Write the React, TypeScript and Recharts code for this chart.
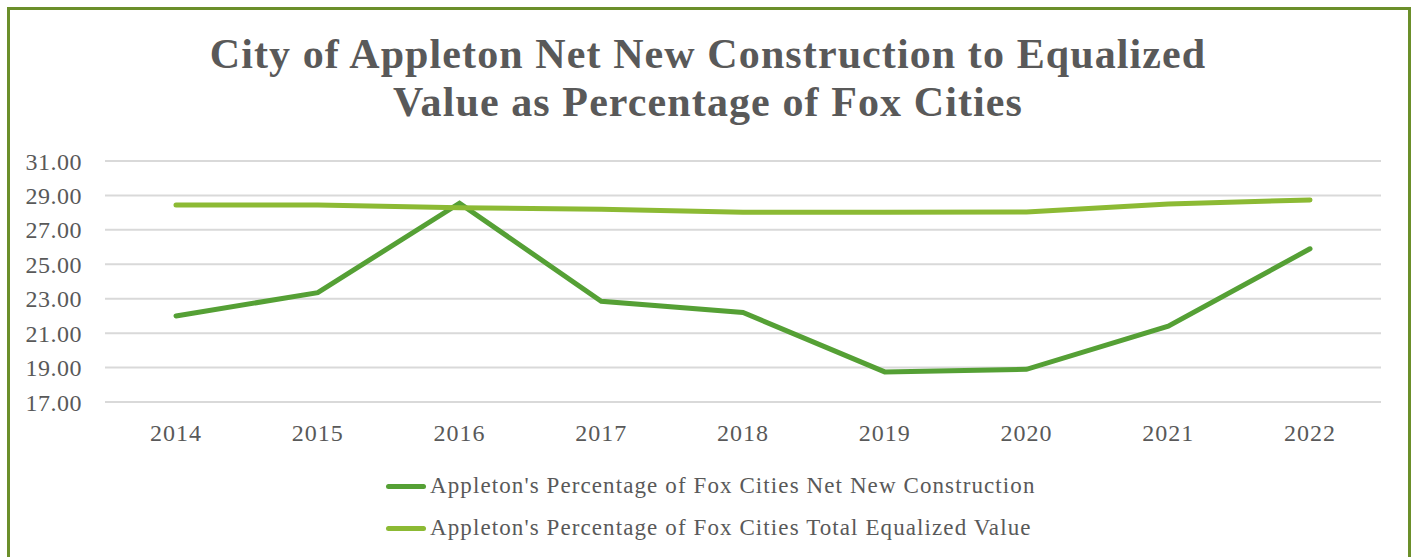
import { LineChart, Line, XAxis, YAxis, CartesianGrid, Legend } from "recharts"

const years = ["2014", "2015", "2016", "2017", "2018", "2019", "2020", "2021", "2022"]
const netNewConstruction = [22.0, 23.35, 28.55, 22.85, 22.2, 18.75, 18.9, 21.4, 25.9]
const totalEqualizedValue = [28.45, 28.45, 28.28, 28.2, 28.03, 28.03, 28.04, 28.5, 28.74]
const yTicks = [17, 19, 21, 23, 25, 27, 29, 31]

const seriesNames = {
  net: "Appleton's Percentage of Fox Cities Net New Construction",
  total: "Appleton's Percentage of Fox Cities Total Equalized Value",
}

const FONT = "'Liberation Serif', serif"
const TEXT = "#595959"

const data = years.map((year, i) => ({
  year,
  net: netNewConstruction[i],
  total: totalEqualizedValue[i],
}))

// legend is stacked, one entry per row, like the Excel original
const renderLegend = ({ payload }: any) => (
  <div style={{ fontFamily: FONT, fontSize: 23, letterSpacing: 1.1, color: TEXT }}>
    {(payload || []).map((entry: any) => (
      <div key={entry.value} style={{ display: "flex", alignItems: "center", height: 42 }}>
        <div style={{ width: 40, height: 5, borderRadius: 3, background: entry.color, marginRight: 4 }} />
        <span>{entry.value}</span>
      </div>
    ))}
  </div>
)

export default function App() {
  return (
    <div style={{ position: "fixed", left: 0, top: 0, width: 1416, height: 557, background: "#fff", overflow: "hidden" }}>
      <div
        style={{
          position: "absolute",
          left: 7,
          top: 7,
          width: 1398,
          height: 600,
          border: "3px solid #6b8f2a",
        }}
      />
      <div
        style={{
          position: "absolute",
          left: 0,
          top: 30,
          width: 1416,
          textAlign: "center",
          fontFamily: FONT,
          fontWeight: "bold",
          fontSize: 42,
          letterSpacing: 1.1,
          lineHeight: "48px",
          color: TEXT,
        }}
      >
        City of Appleton Net New Construction to Equalized
        <br />
        Value as Percentage of Fox Cities
      </div>
      <div style={{ position: "absolute", left: 0, top: 0 }}>
        <LineChart width={1416} height={557} data={data} margin={{ top: 161, right: 35, bottom: 125, left: 0 }}>
          <CartesianGrid vertical={false} stroke="#d9d9d9" strokeWidth={2} />
          <XAxis
            dataKey="year"
            height={30}
            axisLine={false}
            tickLine={false}
            tickSize={0}
            tickMargin={22}
            padding={{ left: 71, right: 71 }}
            tick={{ fill: TEXT, fontSize: 24, fontFamily: FONT, letterSpacing: 1 }}
          />
          <YAxis
            width={105}
            domain={[17, 31]}
            ticks={yTicks}
            axisLine={false}
            tickLine={false}
            tickSize={0}
            tickMargin={23}
            tickFormatter={(v: number) => v.toFixed(2)}
            tick={{ fill: TEXT, fontSize: 24, fontFamily: FONT, letterSpacing: 0.5 }}
          />
          <Line
            dataKey="net"
            name={seriesNames.net}
            stroke="#55a035"
            strokeWidth={5}
            dot={false}
            strokeLinecap="round"
            isAnimationActive={false}
          />
          <Line
            dataKey="total"
            name={seriesNames.total}
            stroke="#8cba34"
            strokeWidth={5}
            dot={false}
            strokeLinecap="round"
            isAnimationActive={false}
          />
          <Legend
            layout="vertical"
            verticalAlign="middle"
            align="center"
            content={renderLegend}
            wrapperStyle={{ top: 465, left: 386, width: 700, height: 84 }}
          />
        </LineChart>
      </div>
    </div>
  )
}
